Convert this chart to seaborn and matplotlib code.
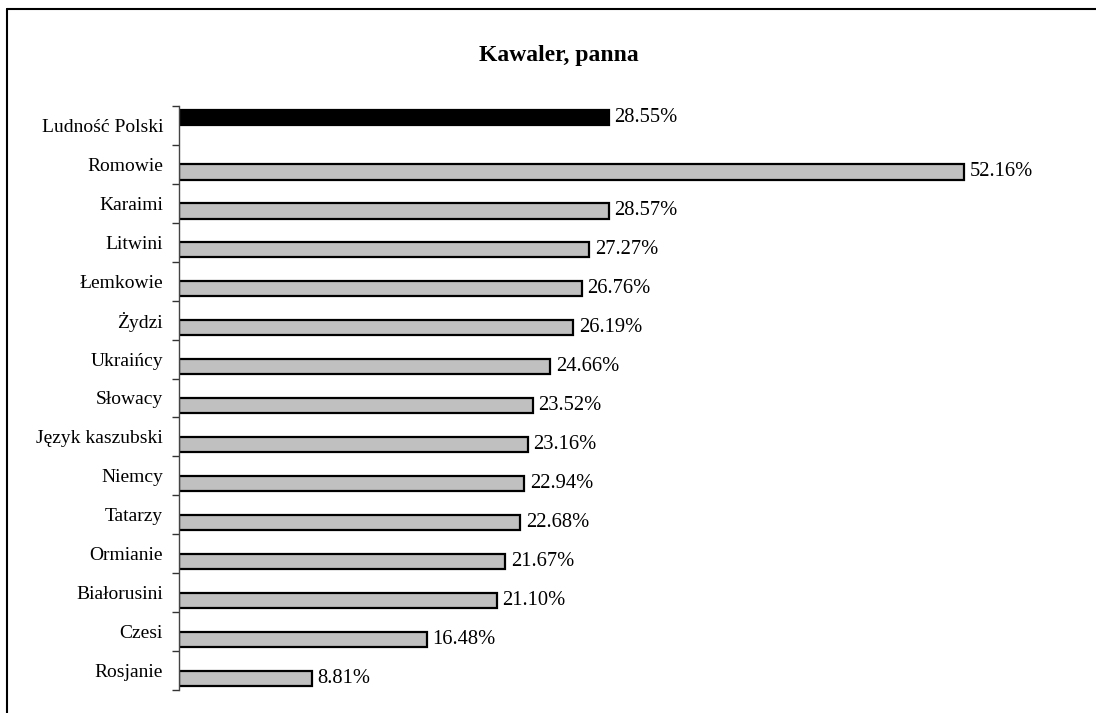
import matplotlib
matplotlib.use("Agg")
import matplotlib.pyplot as plt
import seaborn as sns
import pandas as pd
from matplotlib.ticker import FixedLocator
from matplotlib.lines import Line2D

categories = ["Ludność Polski", "Romowie", "Karaimi", "Litwini", "Łemkowie", "Żydzi",
              "Ukraińcy", "Słowacy", "Język kaszubski", "Niemcy", "Tatarzy", "Ormianie",
              "Białorusini", "Czesi", "Rosjanie"]
values = [28.55, 52.16, 28.57, 27.27, 26.76, 26.19, 24.66, 23.52, 23.16, 22.94,
          22.68, 21.67, 21.10, 16.48, 8.81]
series = ["Polska", "Mniejszości"]
title = "Kawaler, panna"

sns.set_theme(style="white")
plt.rcParams["font.family"] = ["Liberation Serif", "DejaVu Serif"]

series_col = [series[0]] + [series[1]] * (len(categories) - 1)
df = pd.DataFrame({"kategoria": categories, "wartosc": values, "seria": series_col})

fig = plt.figure(figsize=(10.96, 7.13), dpi=100)
ax = fig.add_axes([179 / 1096, 1 - 690 / 713, (1082 - 179) / 1096, (690 - 106) / 713])

sns.barplot(data=df, x="wartosc", y="kategoria", hue="seria", hue_order=series,
            order=categories, palette=["#000000", "#c0c0c0"], legend=False, width=0.78,
            dodge=True, edgecolor="black", linewidth=1.6, ax=ax, saturation=1)

ax.set_xlim(0, 60)
ax.set_ylim(len(categories) - 0.5, -0.5)
ax.set_xlabel("")
ax.set_ylabel("")
ax.set_xticks([])
for s in ["top", "right", "bottom"]:
    ax.spines[s].set_visible(False)
ax.spines["left"].set_color("#444444")
ax.spines["left"].set_linewidth(1.0)

ax.yaxis.set_minor_locator(FixedLocator([i - 0.5 for i in range(len(categories) + 1)]))
ax.tick_params(axis="y", which="major", length=0, pad=11.5, labelsize=14, labelcolor="black")
ax.tick_params(axis="y", which="minor", length=5, width=1.0, color="#333333", left=True)

for cont in ax.containers:
    for bar in cont:
        w = bar.get_width()
        if w != w or w == 0:
            continue
        yc = bar.get_y() + bar.get_height() / 2
        ax.annotate(f"{w:.2f}%", xy=(w, yc), xytext=(4, 0), textcoords="offset points",
                    va="center", ha="left", fontsize=14.8, color="black")

fig.text(559 / 1096, 1 - 55 / 713, title, ha="center", va="center", fontsize=17,
         fontweight="bold", color="black")

# outer frame (left and top edges)
fig.add_artist(Line2D([7 / 1096, 7 / 1096], [0, 1 - 9 / 713], transform=fig.transFigure,
                      color="black", linewidth=1.5))
fig.add_artist(Line2D([7 / 1096, 1], [1 - 9 / 713, 1 - 9 / 713], transform=fig.transFigure,
                      color="black", linewidth=1.5))

fig.savefig("out.png", dpi=100)
